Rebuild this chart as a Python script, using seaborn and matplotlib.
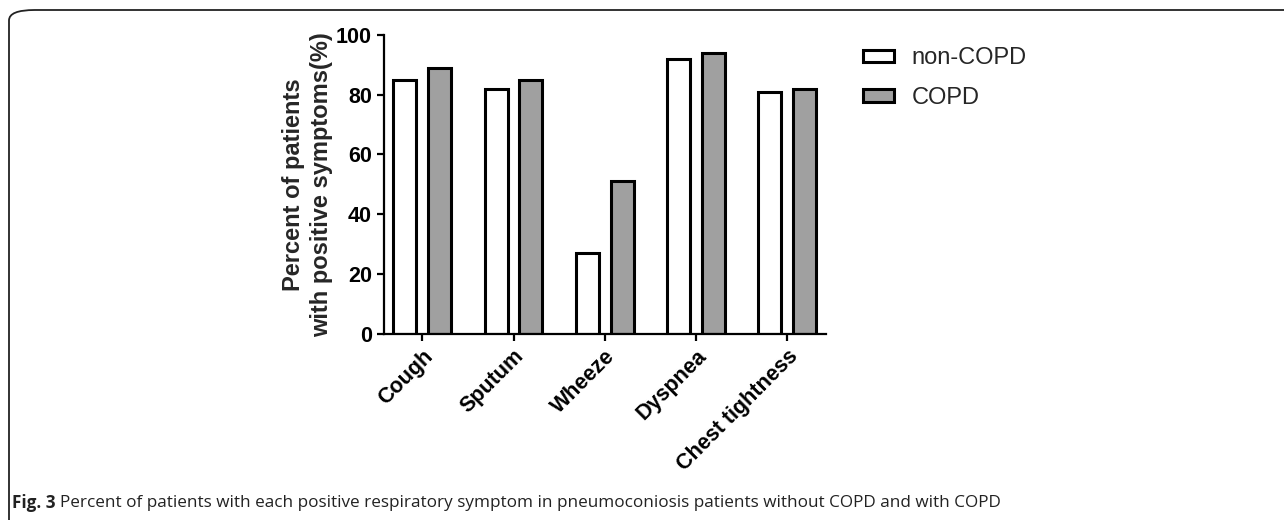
import pandas as pd
import seaborn as sns
import matplotlib.pyplot as plt
from matplotlib.patches import FancyBboxPatch

symptoms = ['Cough', 'Sputum', 'Wheeze', 'Dyspnea', 'Chest tightness']
non_copd = [85, 82, 27, 92, 81]
copd = [89, 85, 51, 94, 82]
groups = ['non-COPD', 'COPD']

df = pd.DataFrame({
    'Symptom': symptoms * 2,
    'Percent': non_copd + copd,
    'Group': [groups[0]] * len(symptoms) + [groups[1]] * len(symptoms),
})

sns.set_style('ticks')
plt.rcParams['font.family'] = ['Liberation Sans', 'DejaVu Sans']

fig = plt.figure(figsize=(12.84, 5.2), dpi=100)
ax = fig.add_axes([0.299, 0.358, 0.344, 0.575])

sns.barplot(data=df, x='Symptom', y='Percent', hue='Group', hue_order=groups,
            palette=['white', '#a0a0a0'], edgecolor='black', linewidth=2.2,
            width=0.76, gap=0.34, ax=ax)

ax.set_ylim(0, 100)
ax.set_xlim(-0.42, 4.42)
ax.set_yticks([0, 20, 40, 60, 80, 100])
ax.set_xlabel('')
ax.set_ylabel('Percent of patients\nwith positive symptoms(%)', fontsize=17,
              fontweight='bold', labelpad=2, linespacing=1.3)
ax.tick_params(axis='both', width=1.6, length=5, labelsize=15.5, colors='black')
for lab in ax.get_yticklabels():
    lab.set_fontweight('bold')
for lab in ax.get_xticklabels():
    lab.set_fontweight('bold')
    lab.set_rotation(45)
    lab.set_ha('right')
    lab.set_rotation_mode('anchor')
sns.despine(ax=ax)
for s in ['left', 'bottom']:
    ax.spines[s].set_linewidth(1.6)
    ax.spines[s].set_color('black')

handles, labels = ax.get_legend_handles_labels()
ax.legend(handles, labels, loc='upper left', bbox_to_anchor=(0.665, 0.927),
          bbox_transform=fig.transFigure, frameon=False, fontsize=17,
          handlelength=1.3, handleheight=0.45, handletextpad=0.75,
          labelspacing=0.75, borderaxespad=0)

frame = FancyBboxPatch((9 / 1284, -0.2), 1.2, 0.2 + 1 - 10 / 520,
                       boxstyle='round,pad=0,rounding_size=0.02',
                       transform=fig.transFigure, fill=False,
                       edgecolor='#222222', linewidth=1.3, clip_on=False)
fig.patches.append(frame)

fig.text(12 / 1284, 1 - 503 / 520, 'Fig. 3', fontsize=12.3, fontweight='bold',
         family=['Open Sans', 'DejaVu Sans'], va='center', color='#222222')
fig.text(60 / 1284, 1 - 503 / 520,
         'Percent of patients with each positive respiratory symptom in '
         'pneumoconiosis patients without COPD and with COPD',
         fontsize=12.3, family=['Open Sans', 'DejaVu Sans'], va='center',
         color='#222222')

fig.savefig('out.png', dpi=100)
